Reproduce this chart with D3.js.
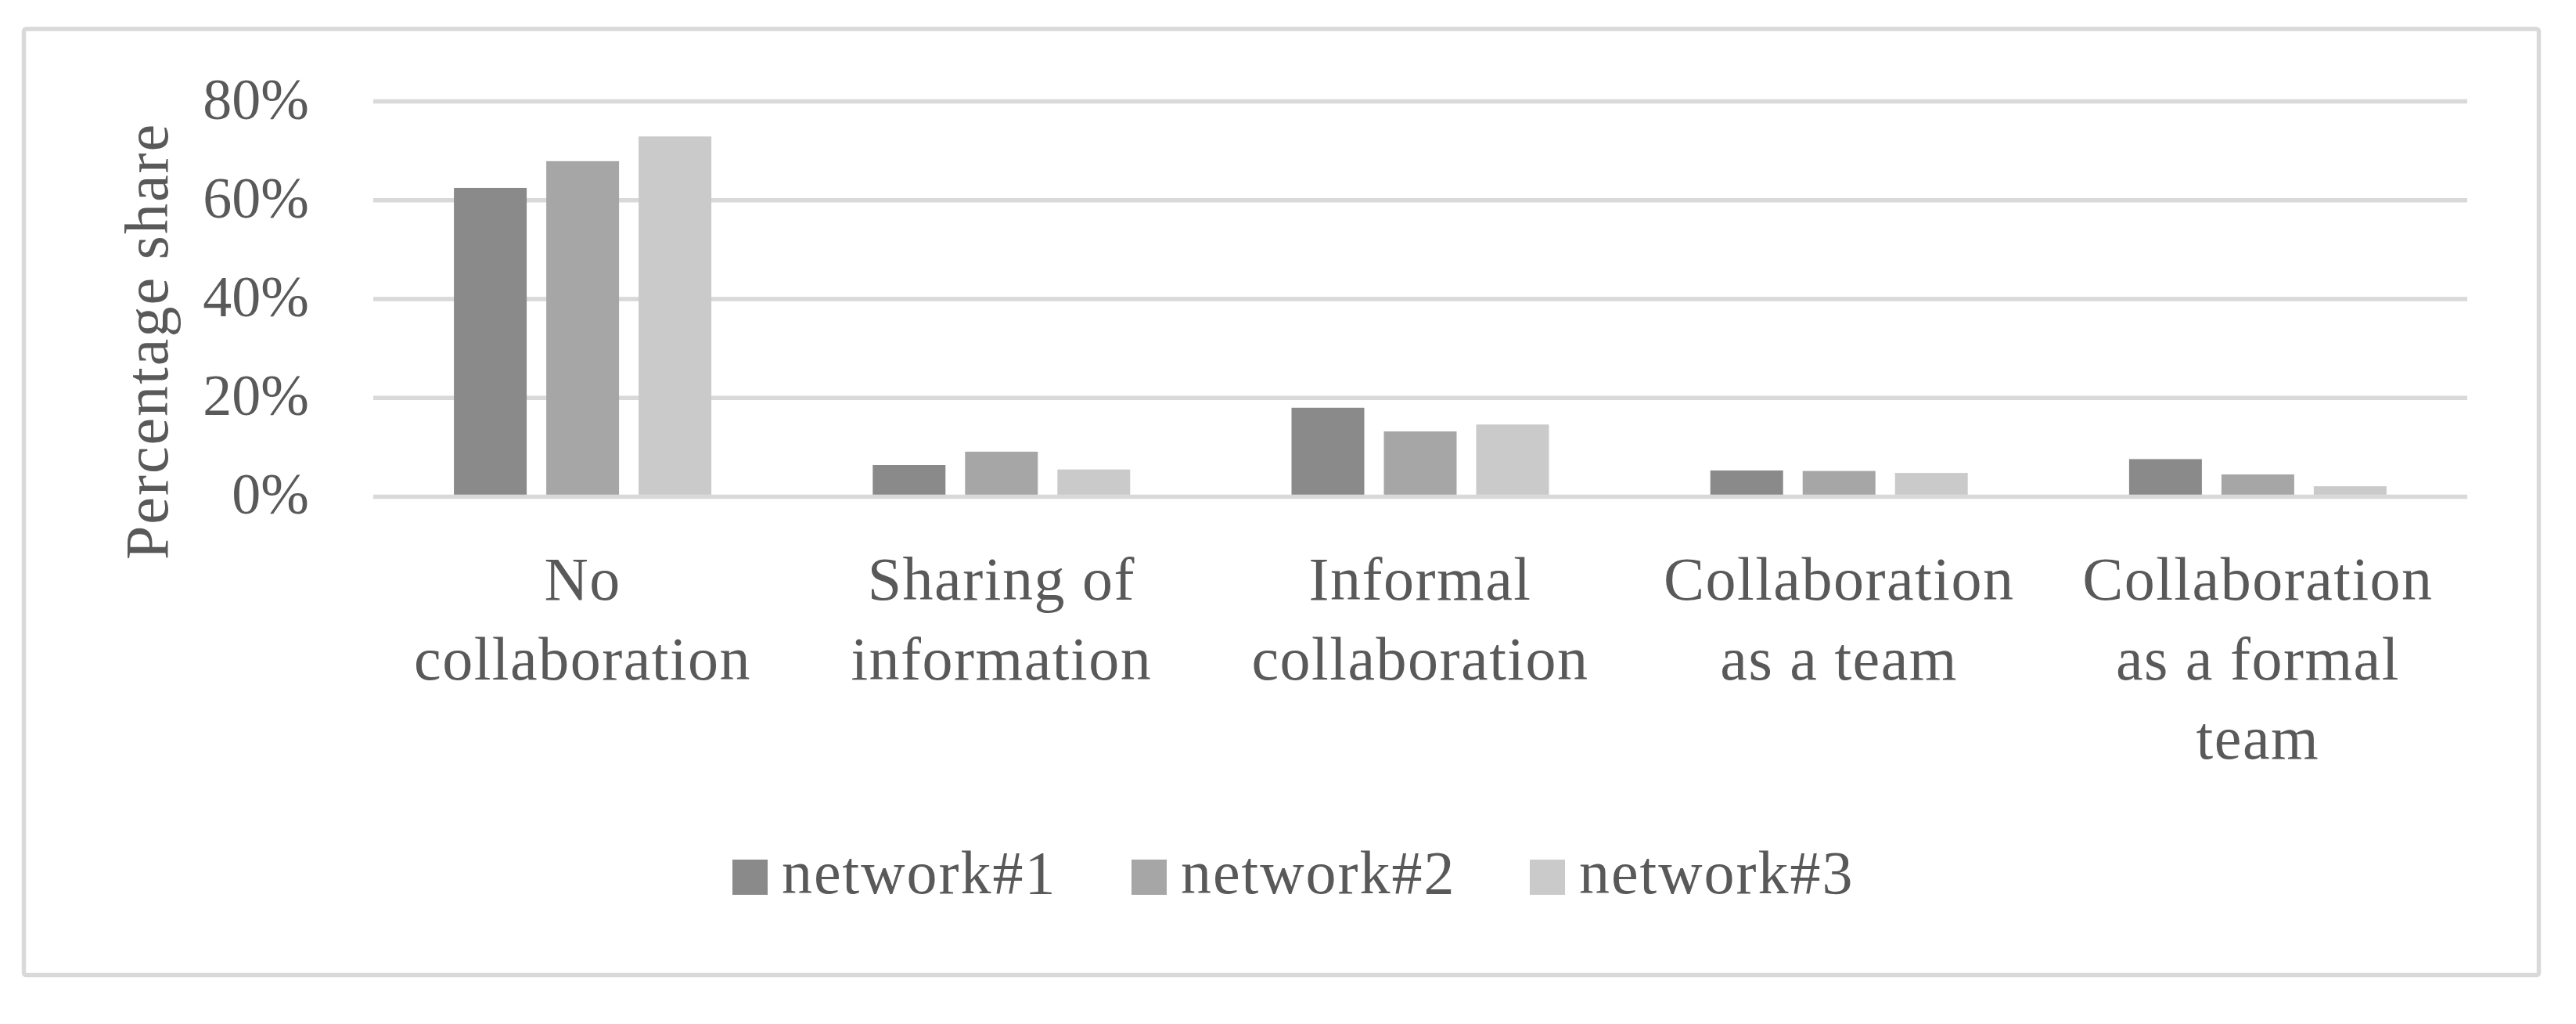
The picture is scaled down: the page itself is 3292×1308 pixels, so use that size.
<!DOCTYPE html>
<html><head><meta charset="utf-8">
<script src="https://cdn.jsdelivr.net/npm/d3@7"></script>
<style>body{margin:0;background:#fff}svg{display:block}</style>
</head><body>
<script>
const categories = [["No","collaboration"],["Sharing of","information"],["Informal","collaboration"],["Collaboration","as a team"],["Collaboration","as a formal","team"]];
const seriesNames = ["network#1","network#2","network#3"];
const network1 = [62.5, 6.4, 18.0, 5.3, 7.6];
const network2 = [67.9, 9.1, 13.2, 5.2, 4.5];
const network3 = [72.9, 5.5, 14.6, 4.8, 2.1];
const yTicks = [0, 20, 40, 60, 80];
const colors = ["#8a8a8a","#a6a6a6","#cacaca"];

const W = 3292, H = 1308;
const svg = d3.select("body").append("svg").attr("width", W).attr("height", H);
const font = "'Liberation Serif', serif";
const txt = "#595959";

svg.append("rect").attr("x",30.5).attr("y",37).attr("width",3214).attr("height",1208.6)
  .attr("rx",3).attr("fill","#fff").attr("stroke","#d9d9d9").attr("stroke-width",5.5);

const plotL = 477, plotR = 3153, yTop = 129.5, yBot = 634.4;
const x0 = d3.scaleBand().domain(d3.range(categories.length)).range([plotL, plotR]).padding(0);
const y = d3.scaleLinear().domain([0, 80]).range([yBot, yTop]);
const groupW = x0.bandwidth() * 329 / 535.2;
const x1 = d3.scaleBand().domain(d3.range(3)).range([0, groupW]).paddingInner(0.212).paddingOuter(0);

// gridlines
svg.append("g").selectAll("line").data(yTicks.filter(d=>d>0)).join("line")
  .attr("x1", plotL).attr("x2", plotR).attr("y1", d=>y(d)).attr("y2", d=>y(d))
  .attr("stroke","#d9d9d9").attr("stroke-width",5.5);

// tick labels
svg.append("g").selectAll("text").data(yTicks).join("text")
  .attr("x", 395).attr("y", d=>y(d)+22).attr("text-anchor","end")
  .attr("font-family", font).attr("font-size", 74).attr("fill", txt)
  .text(d=>d+"%");

// bars
const data = [network1, network2, network3];
const gBars = svg.append("g");
data.forEach((vals, s) => {
  gBars.selectAll(".s"+s).data(vals).join("rect")
    .attr("x", (d,i)=> x0(i) + (x0.bandwidth()-groupW)/2 + x1(s))
    .attr("width", x1.bandwidth())
    .attr("y", d=>y(d)).attr("height", d=>yBot - y(d))
    .attr("fill", colors[s]);
});

// axis line
svg.append("line").attr("x1", plotL).attr("x2", plotR).attr("y1", yBot).attr("y2", yBot)
  .attr("stroke","#d9d9d9").attr("stroke-width",5.5);

// category labels
const gCat = svg.append("g");
categories.forEach((lines, i) => {
  const t = gCat.append("text").attr("text-anchor","middle")
    .attr("font-family", font).attr("font-size", 78).attr("letter-spacing", 1.5).attr("fill", txt);
  lines.forEach((l, k) => {
    t.append("tspan").attr("x", x0(i) + x0.bandwidth()/2).attr("y", 766 + k*101.5).text(l);
  });
});

// y title
svg.append("text").attr("transform","translate(214,436) rotate(-90)")
  .attr("text-anchor","middle").attr("font-family", font).attr("font-size", 78)
  .attr("letter-spacing", 2).attr("fill", txt).text("Percentage share");

// legend
const legX = [936, 1446, 1955];
const gLeg = svg.append("g");
seriesNames.forEach((n, s) => {
  gLeg.append("rect").attr("x", legX[s]).attr("y", 1098).attr("width", 45).attr("height", 45).attr("fill", colors[s]);
  gLeg.append("text").attr("x", legX[s] + 63).attr("y", 1141)
    .attr("font-family", font).attr("font-size", 78).attr("letter-spacing", 2).attr("fill", txt).text(n);
});
</script>
</body></html>
